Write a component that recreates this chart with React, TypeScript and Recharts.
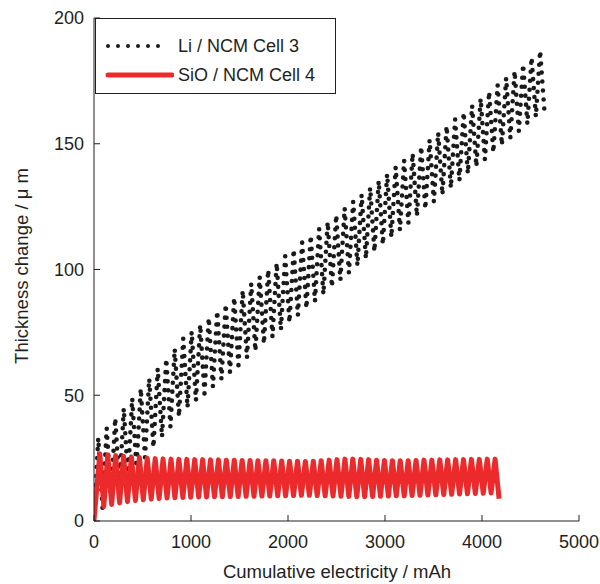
import { LineChart, Line, XAxis, YAxis, Legend } from 'recharts'

const FONT = '"Liberation Sans", Arial, sans-serif'
const INK = '#231f20'
const RED = '#ec2a2b'

const X_TICKS = [0, 1000, 2000, 3000, 4000, 5000]
const Y_TICKS = [0, 50, 100, 150, 200]

// Li / NCM Cell 3 — turning points of each charge / discharge (trough, peak, trough, ...)
const liMah = [
  0, 44, 88, 131, 175, 219, 263, 307, 350, 394, 438, 482, 526, 569, 613, 657, 701, 745, 788, 832,
  876, 920, 964, 1007, 1051, 1095, 1139, 1183, 1226, 1270, 1314, 1358, 1402, 1445, 1489, 1533, 1577, 1621, 1664, 1708,
  1752, 1796, 1840, 1883, 1927, 1971, 2015, 2059, 2102, 2146, 2190, 2234, 2278, 2321, 2365, 2409, 2453, 2497, 2540, 2584,
  2628, 2672, 2716, 2759, 2803, 2847, 2891, 2935, 2978, 3022, 3066, 3110, 3154, 3197, 3241, 3285, 3329, 3373, 3416, 3460,
  3504, 3548, 3592, 3635, 3679, 3723, 3767, 3811, 3854, 3898, 3942, 3986, 4030, 4073, 4117, 4161, 4205, 4249, 4292, 4336,
  4380, 4424, 4468, 4511, 4555, 4599, 4643,
]
const liThickness = [
  0, 33.0, 5.1, 36.9, 9.1, 40.9, 13.2, 44.8, 17.2, 48.8,
  21.2, 52.7, 25.3, 56.6, 29.3, 60.6, 33.4, 64.5, 37.4, 68.5,
  41.5, 72.6, 45.1, 75.3, 47.9, 78.1, 50.7, 80.8, 53.4, 83.5,
  56.3, 86.2, 59.1, 88.9, 61.9, 91.7, 64.8, 94.4, 67.6, 97.1,
  70.4, 99.9, 73.2, 102.6, 76.0, 105.3, 78.9, 108.0, 81.7, 110.8,
  84.5, 113.5, 87.3, 116.2, 90.1, 118.9, 93.0, 121.7, 95.8, 124.4,
  98.6, 127.1, 101.5, 129.8, 104.3, 132.6, 107.1, 135.3, 109.9, 138.0,
  112.8, 140.7, 115.6, 143.4, 118.4, 146.2, 121.2, 148.9, 124.0, 151.6,
  126.9, 154.4, 129.7, 157.1, 132.4, 159.8, 135.3, 162.5, 138.1, 165.2,
  140.9, 168.0, 143.7, 170.7, 146.5, 173.4, 149.4, 176.2, 152.2, 178.9,
  155.0, 181.6, 157.8, 184.3, 160.7, 187.0, 163.5,
]

// SiO / NCM Cell 4
const sioMah = [
  0, 60, 101, 142, 182, 223, 264, 305, 345, 386, 427, 468, 508, 549, 590, 631, 671, 712, 753, 794,
  834, 875, 916, 957, 997, 1038, 1079, 1120, 1160, 1201, 1242, 1283, 1323, 1364, 1405, 1446, 1486, 1527, 1568, 1609,
  1649, 1690, 1731, 1772, 1812, 1853, 1894, 1935, 1975, 2016, 2057, 2098, 2138, 2179, 2220, 2261, 2301, 2342, 2383, 2424,
  2464, 2505, 2546, 2587, 2627, 2668, 2709, 2750, 2790, 2831, 2872, 2913, 2953, 2994, 3035, 3076, 3116, 3157, 3198, 3239,
  3279, 3320, 3361, 3402, 3442, 3483, 3524, 3565, 3605, 3646, 3687, 3728, 3768, 3809, 3850, 3891, 3931, 3972, 4013, 4054,
  4094, 4135, 4176,
]
const sioThickness = [
  0.5, 26.6, 5.8, 26.3, 6.6, 26.0, 7.2, 25.7, 7.7, 25.5,
  8.1, 25.3, 8.4, 25.0, 8.7, 24.8, 8.9, 24.7, 9.1, 24.6,
  9.2, 24.5, 9.3, 24.5, 9.4, 24.4, 9.5, 24.4, 9.5, 24.3,
  9.6, 24.3, 9.6, 24.2, 9.7, 24.2, 9.7, 24.1, 9.8, 24.1,
  9.8, 24.0, 9.9, 24.0, 9.9, 24.0, 10.0, 23.9, 10.0, 23.8,
  10.1, 23.8, 10.2, 23.7, 10.2, 23.8, 10.1, 24.0, 10.0, 24.2,
  9.9, 24.4, 9.8, 24.6, 9.7, 24.6, 9.6, 24.5, 9.6, 24.4,
  9.7, 24.2, 9.8, 24.1, 9.9, 24.0, 10.0, 24.0, 10.0, 24.0,
  10.1, 24.1, 10.2, 24.2, 10.3, 24.2, 10.4, 24.3, 10.5, 24.3,
  10.6, 24.4, 10.7, 24.4, 10.8, 24.5, 10.9, 24.5, 11.0, 24.6,
  11.1, 24.6, 8.8,
]

const liData = liMah.map((x, i) => ({ x, y: liThickness[i] }))
const sioData = sioMah.map((x, i) => ({ x, y: sioThickness[i] }))

const tickStyle = { fill: INK, fontSize: 18, fontFamily: FONT }

function LegendBox() {
  return (
    <div
      style={{
        width: 241,
        height: 76,
        boxSizing: 'border-box',
        border: `1px solid ${INK}`,
        background: '#fff',
        fontFamily: FONT,
        fontSize: 18,
        color: INK,
        position: 'relative',
      }}
    >
      <svg width={70} height={70} style={{ position: 'absolute', left: 8, top: 0 }}>
        <line x1={4} x2={64} y1={27} y2={27} stroke="#1a1a1a" strokeWidth={4} strokeLinecap="round" strokeDasharray="0 10" />
        <line x1={4} x2={68} y1={56} y2={56} stroke={RED} strokeWidth={5} strokeLinecap="round" />
      </svg>
      <div style={{ position: 'absolute', left: 82, top: 16, lineHeight: '22px' }}>Li / NCM Cell 3</div>
      <div style={{ position: 'absolute', left: 82, top: 45, lineHeight: '22px' }}>SiO / NCM Cell 4</div>
    </div>
  )
}

export default function App() {
  return (
    <div style={{ position: 'absolute', left: 0, top: 0, width: 600, height: 584, background: '#fff' }}>
      <LineChart width={600} height={584} margin={{ top: 18, right: 21, bottom: 0, left: 0 }}>
        <XAxis
          dataKey="x"
          type="number"
          domain={[0, 5000]}
          ticks={X_TICKS}
          interval={0}
          height={63}
          tick={tickStyle}
          tickSize={-6}
          tickMargin={20}
          stroke={INK}
          allowDataOverflow
        />
        <XAxis xAxisId="top" orientation="top" type="number" domain={[0, 5000]} height={0} tick={false} tickLine={false} stroke={INK} />
        <YAxis
          type="number"
          domain={[0, 200]}
          ticks={Y_TICKS}
          interval={0}
          width={94}
          tick={tickStyle}
          tickSize={-6}
          tickMargin={16}
          stroke={INK}
          allowDataOverflow
        />
        <YAxis yAxisId="right" orientation="right" type="number" domain={[0, 200]} width={0} tick={false} tickLine={false} stroke={INK} />
        <Legend
          layout="vertical"
          align="center"
          verticalAlign="middle"
          wrapperStyle={{ left: 95, top: 18, width: 241 }}
          content={() => <LegendBox />}
        />
        <Line
          data={liData}
          dataKey="y"
          name="Li / NCM Cell 3"
          type="linear"
          stroke="#1a1a1a"
          strokeWidth={4.6}
          strokeLinecap="round"
          strokeDasharray="0 9"
          dot={false}
          activeDot={false}
          isAnimationActive={false}
        />
        <Line
          data={sioData}
          dataKey="y"
          name="SiO / NCM Cell 4"
          type="linear"
          stroke={RED}
          strokeWidth={5}
          strokeLinejoin="round"
          dot={false}
          activeDot={false}
          isAnimationActive={false}
        />
      </LineChart>
      <div
        style={{
          position: 'absolute',
          left: 337,
          top: 562,
          transform: 'translateX(-50%)',
          whiteSpace: 'nowrap',
          fontFamily: FONT,
          fontSize: 18.5,
          lineHeight: '20px',
          color: INK,
        }}
      >
        Cumulative electricity / mAh
      </div>
      <div
        style={{
          position: 'absolute',
          left: 22,
          top: 266,
          transform: 'translate(-50%, -50%) rotate(-90deg)',
          whiteSpace: 'nowrap',
          fontFamily: FONT,
          fontSize: 18.5,
          lineHeight: '20px',
          color: INK,
        }}
      >
        Thickness change / μ m
      </div>
    </div>
  )
}
